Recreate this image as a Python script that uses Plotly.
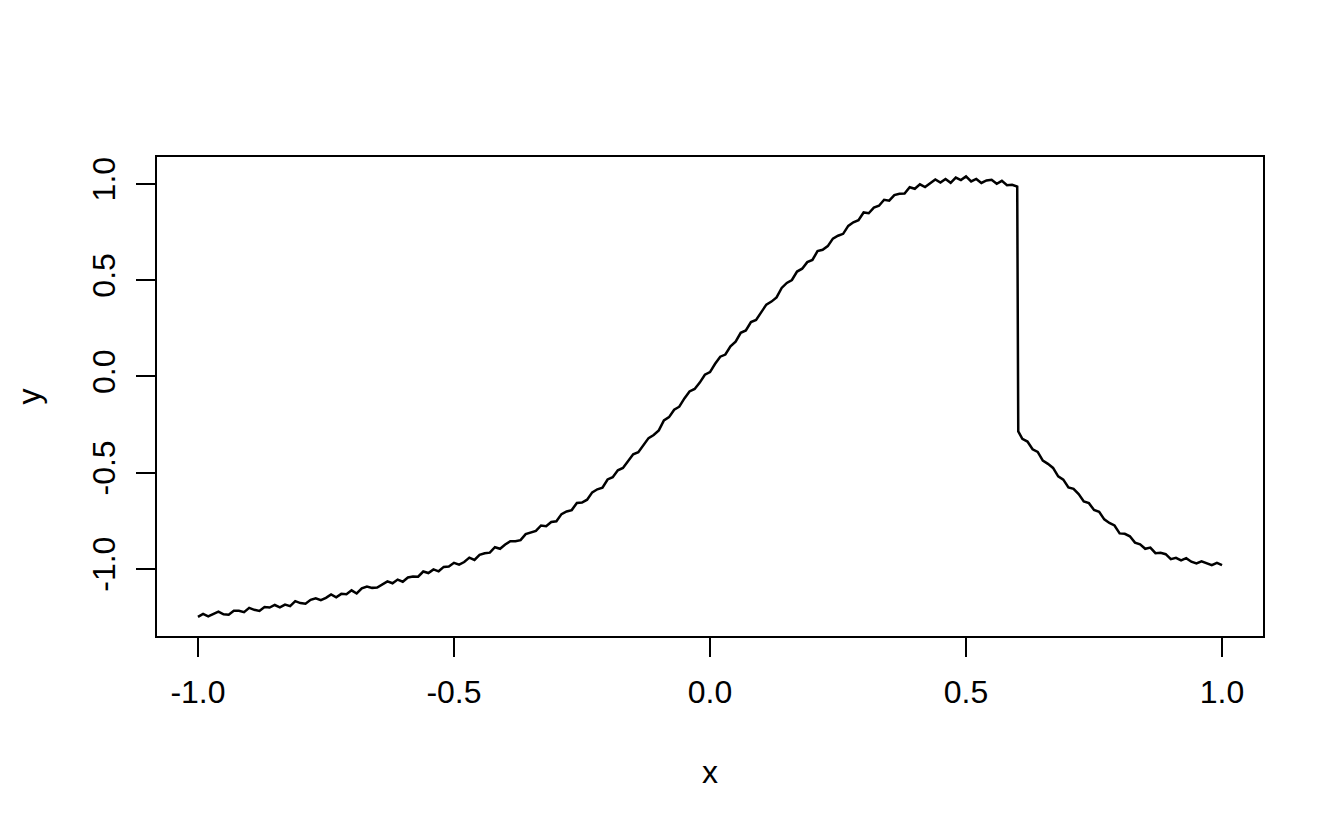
import plotly.graph_objects as go

# ---- data ----
x_vals = [-1.00, -0.99, -0.98, -0.97, -0.96, -0.95, -0.94, -0.93, -0.92, -0.91,
          -0.90, -0.89, -0.88, -0.87, -0.86, -0.85, -0.84, -0.83, -0.82, -0.81,
          -0.80, -0.79, -0.78, -0.77, -0.76, -0.75, -0.74, -0.73, -0.72, -0.71,
          -0.70, -0.69, -0.68, -0.67, -0.66, -0.65, -0.64, -0.63, -0.62, -0.61,
          -0.60, -0.59, -0.58, -0.57, -0.56, -0.55, -0.54, -0.53, -0.52, -0.51,
          -0.50, -0.49, -0.48, -0.47, -0.46, -0.45, -0.44, -0.43, -0.42, -0.41,
          -0.40, -0.39, -0.38, -0.37, -0.36, -0.35, -0.34, -0.33, -0.32, -0.31,
          -0.30, -0.29, -0.28, -0.27, -0.26, -0.25, -0.24, -0.23, -0.22, -0.21,
          -0.20, -0.19, -0.18, -0.17, -0.16, -0.15, -0.14, -0.13, -0.12, -0.11,
          -0.10, -0.09, -0.08, -0.07, -0.06, -0.05, -0.04, -0.03, -0.02, -0.01,
          0.00, 0.01, 0.02, 0.03, 0.04, 0.05, 0.06, 0.07, 0.08, 0.09,
          0.10, 0.11, 0.12, 0.13, 0.14, 0.15, 0.16, 0.17, 0.18, 0.19,
          0.20, 0.21, 0.22, 0.23, 0.24, 0.25, 0.26, 0.27, 0.28, 0.29,
          0.30, 0.31, 0.32, 0.33, 0.34, 0.35, 0.36, 0.37, 0.38, 0.39,
          0.40, 0.41, 0.42, 0.43, 0.44, 0.45, 0.46, 0.47, 0.48, 0.49,
          0.50, 0.51, 0.52, 0.53, 0.54, 0.55, 0.56, 0.57, 0.58, 0.59,
          0.600,
          0.602, 0.61, 0.62, 0.63, 0.64, 0.65, 0.66, 0.67, 0.68, 0.69,
          0.70, 0.71, 0.72, 0.73, 0.74, 0.75, 0.76, 0.77, 0.78, 0.79,
          0.80, 0.81, 0.82, 0.83, 0.84, 0.85, 0.86, 0.87, 0.88, 0.89,
          0.90, 0.91, 0.92, 0.93, 0.94, 0.95, 0.96, 0.97, 0.98, 0.99,
          1.00]

y_vals = [-1.249, -1.233, -1.246, -1.233, -1.221, -1.235, -1.237, -1.217, -1.217, -1.224,
          -1.202, -1.212, -1.218, -1.197, -1.200, -1.187, -1.199, -1.185, -1.193, -1.167,
          -1.177, -1.180, -1.160, -1.152, -1.162, -1.150, -1.132, -1.147, -1.129, -1.131,
          -1.111, -1.127, -1.101, -1.091, -1.098, -1.096, -1.079, -1.064, -1.074, -1.055,
          -1.066, -1.044, -1.039, -1.040, -1.013, -1.021, -1.002, -1.012, -0.989, -0.987,
          -0.968, -0.977, -0.964, -0.941, -0.953, -0.926, -0.918, -0.915, -0.887, -0.895,
          -0.873, -0.856, -0.856, -0.850, -0.819, -0.811, -0.802, -0.774, -0.778, -0.756,
          -0.752, -0.715, -0.701, -0.694, -0.657, -0.655, -0.640, -0.602, -0.586, -0.578,
          -0.535, -0.523, -0.487, -0.475, -0.438, -0.404, -0.393, -0.357, -0.320, -0.304,
          -0.280, -0.228, -0.211, -0.173, -0.157, -0.114, -0.078, -0.065, -0.032, 0.009,
          0.023, 0.066, 0.103, 0.114, 0.157, 0.181, 0.227, 0.239, 0.283, 0.294,
          0.337, 0.373, 0.389, 0.411, 0.460, 0.486, 0.501, 0.545, 0.560, 0.594,
          0.605, 0.651, 0.658, 0.677, 0.716, 0.731, 0.741, 0.782, 0.801, 0.812,
          0.852, 0.848, 0.877, 0.887, 0.918, 0.913, 0.942, 0.949, 0.950, 0.983,
          0.975, 0.998, 0.984, 1.005, 1.023, 1.007, 1.026, 1.006, 1.033, 1.020,
          1.039, 1.013, 1.026, 1.005, 1.018, 1.022, 1.001, 1.016, 0.993, 0.996,
          0.986,
          -0.285, -0.324, -0.338, -0.378, -0.392, -0.437, -0.454, -0.475, -0.519, -0.536,
          -0.576, -0.584, -0.611, -0.649, -0.658, -0.693, -0.703, -0.742, -0.761, -0.774,
          -0.815, -0.817, -0.830, -0.863, -0.872, -0.895, -0.889, -0.918, -0.916, -0.923,
          -0.949, -0.942, -0.955, -0.944, -0.962, -0.971, -0.960, -0.968, -0.980, -0.968,
          -0.980]

x_tick_vals = [-1.0, -0.5, 0.0, 0.5, 1.0]
x_tick_text = ["-1.0", "-0.5", "0.0", "0.5", "1.0"]
y_tick_vals = [-1.0, -0.5, 0.0, 0.5, 1.0]
y_tick_text = ["-1.0", "-0.5", "0.0", "0.5", "1.0"]

FONT = "Liberation Sans, Arial, Helvetica, sans-serif"

fig = go.Figure()
fig.add_trace(go.Scatter(x=x_vals, y=y_vals, mode="lines",
                         line=dict(color="black", width=2.5), showlegend=False,
                         hoverinfo="x+y"))

# page body has an 8px margin; size the figure so the plot box lands where the reference has it
fig.update_layout(
    width=1328, height=817,
    margin=dict(l=149, r=73, t=149, b=189, pad=0),
    paper_bgcolor="white", plot_bgcolor="white",
    font=dict(family=FONT, size=32, color="black"),
    xaxis=dict(range=[-1.08, 1.08], showgrid=False, zeroline=False,
               showline=True, linecolor="black", linewidth=2, mirror=True,
               ticks="outside", ticklen=19, tickwidth=2, tickcolor="black",
               tickvals=x_tick_vals, ticktext=x_tick_text,
               tickfont=dict(family=FONT, size=32, color="black"),
               ticklabelstandoff=8),
    yaxis=dict(range=[-1.348, 1.140], showgrid=False, zeroline=False,
               showline=True, linecolor="black", linewidth=2, mirror=True,
               ticks="outside", ticklen=19, tickwidth=2, tickcolor="black",
               tickvals=y_tick_vals, ticktext=y_tick_text, tickangle=-90,
               tickfont=dict(family=FONT, size=32, color="black"),
               ticklabelstandoff=8),
    annotations=[
        dict(text="x", xref="paper", yref="paper", x=0.5, y=(636 - 772) / 479,
             xanchor="center", yanchor="middle", showarrow=False,
             font=dict(family=FONT, size=32, color="black")),
        dict(text="y", xref="paper", yref="paper", x=(28 - 157) / 1106, y=0.5,
             xanchor="center", yanchor="middle", showarrow=False, textangle=-90,
             font=dict(family=FONT, size=32, color="black")),
    ],
)

fig.write_html("out.html")
